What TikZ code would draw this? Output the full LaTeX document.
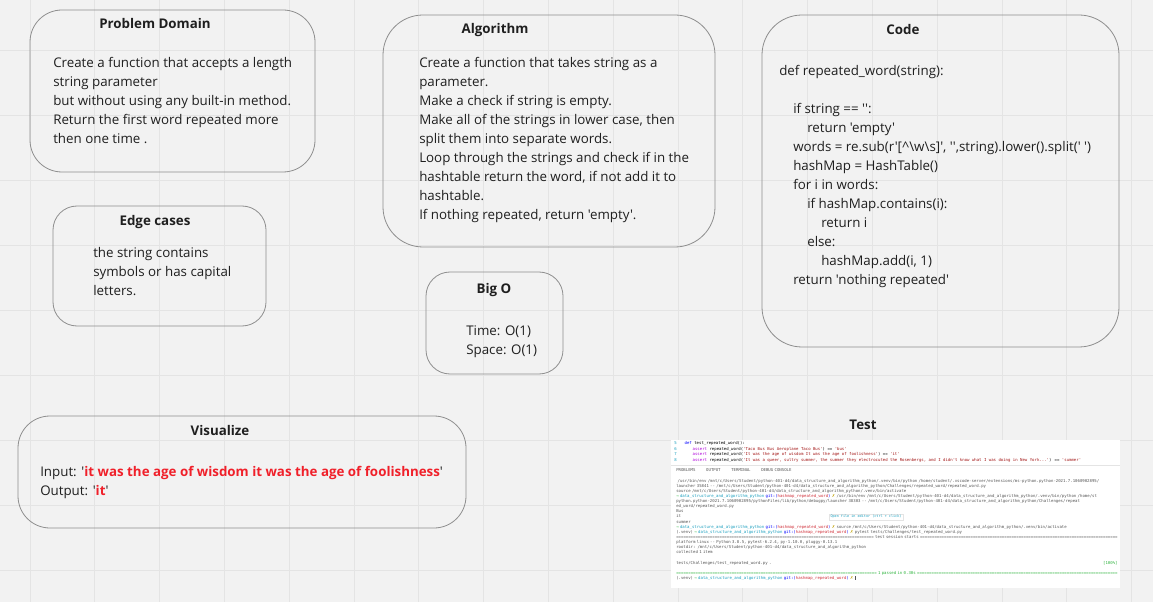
\documentclass[tikz,border=0pt]{standalone}
\usepackage{fontspec}
\setmainfont{Open Sans}[Ligatures=TeXOff]
\newfontfamily\termfont{DejaVu Sans Mono}[Ligatures=TeXOff]
\newfontfamily\symfont{DejaVu Sans}
\usepackage{tikz}
\usetikzlibrary{positioning}
\usepackage{xcolor}

\definecolor{canvas}{HTML}{F2F2F2}
\definecolor{gridln}{HTML}{E4E4E4}
\definecolor{boxln}{HTML}{8E8E8E}
\definecolor{ink}{HTML}{1F1F1F}
\definecolor{hot}{HTML}{F0202A}
\definecolor{kwblue}{HTML}{0000FF}
\definecolor{kwpurple}{HTML}{AF00DB}
\definecolor{strred}{HTML}{A31515}
\definecolor{tcyan}{HTML}{1A9FBF}
\definecolor{tgreen}{HTML}{2BB33B}
\definecolor{tred}{HTML}{D0303A}
\definecolor{tyellow}{HTML}{C0A000}
\definecolor{tgray}{HTML}{555555}

\begin{document}
\begin{tikzpicture}[x=0.75pt, y=-0.75pt,
  card/.style={draw=boxln, line width=0.6pt, rounded corners=24pt},
  smallcard/.style={draw=boxln, line width=0.6pt, rounded corners=18pt},
  title/.style={font=\fontsize{10}{12}\selectfont\bfseries, text=ink, inner sep=0pt},
  body/.style={anchor=north west, align=left, inner sep=0pt, text=ink,
    font=\fontsize{10}{14.25}\selectfont},
  gridline/.style={draw=gridln, line width=0.5pt}]

% canvas and grid
\fill[canvas] (0,0) rectangle (1153,602);
\useasboundingbox (0,0) rectangle (1153,602);
\foreach \gx in {0,...,17} \draw[gridline] ({30+64.8*\gx},0) -- ({30+64.8*\gx},602);
\foreach \gy in {0,...,8} \draw[gridline] (0,{50+65*\gy}) -- (1153,{50+65*\gy});

% Problem Domain
\draw[card] (30,10) rectangle (315,172);
\node[title] (pdtitle) at (155,24) {Problem Domain};
\node[body] (pdtext) at (53,57) {Create a function that accepts a length\\string parameter\\but without using any built-in method.\\Return the first word repeated more\\then one time .};

% Edge cases
\draw[smallcard] (53,206) rectangle (266,326);
\node[title] (edtitle) at (155,222) {Edge cases};
\node[body] (edtext) at (93,247) {the string contains\\symbols or has capital\\letters.};

% Algorithm
\draw[card, rounded corners=30pt] (383,15) rectangle (715,247);
\node[title] (altitle) at (495,30) {Algorithm};
\node[body] (altext) at (419,57) {Create a function that takes string as a\\parameter.\\Make a check if string is empty.\\Make all of the strings in lower case, then\\split them into separate words.\\Loop through the strings and check if in the\\hashtable return the word, if not add it to\\hashtable.\\If nothing repeated, return 'empty'.};

% Big O
\draw[smallcard] (426,272) rectangle (563,374);
\node[title] (botitle) at (494,290) {Big O};
\node[body] (botext) at (466,325) {Time: O(1)\\Space: O(1)};

% Code
\draw[card, rounded corners=30pt] (762,15) rectangle (1119,347);
\node[title] (cdtitle) at (903,30) {Code};
\node[body] (cdtext) at (779,65) {def repeated\_word(string):\\[14.25pt]
\hspace{10.5pt}if string == '':\\
\hspace{21pt}return 'empty'\\
\hspace{10.5pt}words = re.sub(r'[\textasciicircum\textbackslash w\textbackslash s]', '',string).lower().split(' ')\\
\hspace{10.5pt}hashMap = HashTable()\\
\hspace{10.5pt}for i in words:\\
\hspace{21pt}if hashMap.contains(i):\\
\hspace{31.5pt}return i\\
\hspace{21pt}else:\\
\hspace{31.5pt}hashMap.add(i, 1)\\
\hspace{10.5pt}return 'nothing repeated'};

% Visualize
\draw[card] (18,416) rectangle (466,528);
\node[title] (vititle) at (220,430) {Visualize};
\node[body] (vitext) at (40,466) {Input: '{\bfseries\color{hot}it was the age of wisdom it was the age of foolishness}'\\Output: '{\bfseries\color{hot}it}'};

% Test
\node[title] (tstitle) at (863,425) {Test};
\fill[white] (671,440) rectangle (1120,588);
\begin{scope}
\clip (671,440) rectangle (1120,588);
\node[anchor=north west, align=left, inner sep=0pt, font=\termfont\fontsize{3}{4.1}\selectfont] (tscode) at (674,441.5) {%
\color{tcyan}5\hspace{6pt}\color{kwblue}def \color{black}test\_repeated\_word():\\
\color{tcyan}6\hspace{12pt}\color{kwpurple}assert \color{black}repeated\_word(\color{strred}'Taco Bus Bus Aeroplane Taco Bus'\color{black}) == \color{strred}'bus'\\
\color{tcyan}7\hspace{12pt}\color{kwpurple}assert \color{black}repeated\_word(\color{strred}'It was the age of wisdom It was the age of foolishness'\color{black}) == \color{strred}'it'\\
\color{tcyan}8\hspace{12pt}\color{kwpurple}assert \color{black}repeated\_word(\color{strred}'It was a queer, sultry summer, the summer they electrocuted the Rosenbergs, and I didn't know what I was doing in New York...'\color{black}) == \color{strred}'summer'};
\draw[gridln, line width=0.5pt] (671,465) -- (1120,465);
\node[anchor=north west, align=left, inner sep=0pt, text=tgray, text width=331pt, font=\termfont\fontsize{3}{3.85}\selectfont] (tsterm) at (676,468.5) {%
PROBLEMS\hspace{8pt}OUTPUT\hspace{8pt}TERMINAL\hspace{8pt}DEBUG CONSOLE\\
~\\
\mbox{ /usr/bin/env /mnt/c/Users/Student/python-401-d4/data\_structure\_and\_algorithm\_python/.venv/bin/python /home/student/.vscode-server/extensions/ms-python.python-2021.7.1060902895/}\\
\mbox{launcher 35841 -- /mnt/c/Users/Student/python-401-d4/data\_structure\_and\_algorithm\_python/Challenges/repeated\_word/repeated\_word.py}\\
\mbox{source /mnt/c/Users/Student/python-401-d4/data\_structure\_and\_algorithm\_python/.venv/bin/activate}\\
\mbox{{\color{tgreen}→} {\color{tcyan}data\_structure\_and\_algorithm\_python} {\color{kwblue}git:(}{\color{tred}hashmap\_repeated\_word}{\color{kwblue})} {\color{tyellow}\symfont ✗} /usr/bin/env /mnt/c/Users/Student/python-401-d4/data\_structure\_and\_algorithm\_python/.venv/bin/python /home/st}\\
\mbox{python.python-2021.7.1060902895/pythonFiles/lib/python/debugpy/launcher 38303 -- /mnt/c/Users/Student/python-401-d4/data\_structure\_and\_algorithm\_python/Challenges/repeat}\\
ed\_word/repeated\_word.py\\
Bus\\
it\\
summer\\
\mbox{{\color{tgreen}→} {\color{tcyan}data\_structure\_and\_algorithm\_python} {\color{kwblue}git:(}{\color{tred}hashmap\_repeated\_word}{\color{kwblue})} {\color{tyellow}\symfont ✗} source /mnt/c/Users/Student/python-401-d4/data\_structure\_and\_algorithm\_python/.venv/bin/activate}\\
\mbox{(.venv) {\color{tgreen}→} {\color{tcyan}data\_structure\_and\_algorithm\_python} {\color{kwblue}git:(}{\color{tred}hashmap\_repeated\_word}{\color{kwblue})} {\color{tyellow}\symfont ✗} pytest tests/Challenges/test\_repeated\_word.py}\\
\leavevmode\hbox to 331pt{\xleaders\hbox{=}\hfill{} test session starts \xleaders\hbox{=}\hfill}\\
platform linux -- Python 3.8.5, pytest-6.2.4, py-1.10.0, pluggy-0.13.1\\
rootdir: /mnt/c/Users/Student/python-401-d4/data\_structure\_and\_algorithm\_python\\
collected 1 item\\
~\\
\leavevmode\hbox to 331pt{tests/Challenges/test\_repeated\_word.py .\hfill{\color{tgreen}[100\%]}}\\
~\\
\leavevmode\hbox to 331pt{\color{tgreen}\xleaders\hbox{=}\hfill{} 1 passed in 0.30s \xleaders\hbox{=}\hfill}\\
\mbox{(.venv) {\color{tgreen}→} {\color{tcyan}data\_structure\_and\_algorithm\_python} {\color{kwblue}git:(}{\color{tred}hashmap\_repeated\_word}{\color{kwblue})} {\color{tyellow}\symfont ✗} \rule{1.2pt}{2.4pt}}};
\node[draw=gridln, fill=white, inner sep=1pt, text=tcyan, font=\termfont\fontsize{2.6}{3}\selectfont] (tstip) at (866,517) {Open file in editor (ctrl + click)};
\end{scope}

\end{tikzpicture}
\end{document}
